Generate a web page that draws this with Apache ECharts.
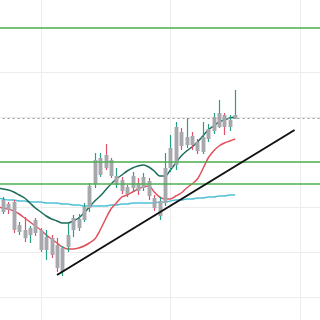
<!DOCTYPE html>
<html>
<head>
<meta charset="utf-8">
<script src="https://cdn.jsdelivr.net/npm/echarts@6/dist/echarts.min.js"></script>
<style>html,body{margin:0;padding:0;background:#fff}#c{width:320px;height:320px}</style>
</head>
<body>
<div id="c"></div>
<script>
// Bars (categories); category 0 is the slot left of the first visible candle
var categories = [];
for (var i = 0; i < 61; i++) categories.push(String(i + 1));
var firstCandleCategory = 1;

// Candle values [open, close, low, high]
var candleOpen  = [130,138,140,110,112,107,122,112, 92,104, 97, 70, 95,112,114,122,134,158,167,187,182,157,162,155,154,159,154,161,144,126,139,174,177,210,197,206,200,190,203,211,215,227,215,223];
var candleClose = [142,132,112,117,104,114,109, 92,105, 87, 74, 94,107,124,123,135,156,182,184,174,166,166,151,148,166,151,165,146,134,141,174,194,215,196,205,197,191,205,213,225,229,215,222,227];
var candleLow   = [128,128,109,107,100, 99,106, 90, 82, 84, 70, 66, 90,105,111,120,130,154,165,172,164,154,148,145,150,147,151,142,131,122,136,170,172,192,194,192,188,188,200,208,214,207,211,223];
var candleHigh  = [145,140,142,120,125,116,124,114,112,107,104, 96,119,127,128,139,159,189,189,198,184,174,165,157,170,164,169,164,147,145,189,207,220,214,224,210,203,220,218,229,242,229,227,252];

// Moving averages (from category 0)
var maFast = [154,153,152,150,147,144,139,134,130,126,123,121,119,119,121,124,129,135,141,146,152,158,163,167,171,174,176,177,175,171,166,166,172,179,186,191,195,200,206,212,216,220,222,224,225];
var maMid  = [135,134,133,131,128,124,120,116,112,107,103, 99, 95, 93, 93, 94, 96, 99,103,112,123,133,139,145,147,150,153,155,156,150,145,143,143,146,149,154,158,163,173,184,191,196,199,201,203];
var maSlow = [144,143,142,142,141,141,140,140,140,139,139,139,138,138,137,137,136,136,136,136,136,137,137,138,138,139,139,139,139,139,140,140,141,142,142,143,143,144,144,145,145,146,146,147,147];

// Horizontal levels
var greenLevels = [314, 180, 158];
var dottedLevel = 224;

// Trend line [category, value]
var trendStart = [11, 67];
var trendEnd = [55, 212];

var verticalGridCats = [8, 32, 56];

var UP = '#26a085', DOWN = '#e0506a', BODY = '#a7a7ae';

var candleData = candleOpen.map(function (o, i) {
  return [i + firstCandleCategory, o, candleClose[i], candleLow[i], candleHigh[i]];
});

var chart = echarts.init(document.getElementById('c'), null, {renderer: 'canvas'});
chart.setOption({
  animation: false,
  backgroundColor: '#ffffff',
  grid: {left: -2.4, right: -1.6, top: -18, bottom: -22, containLabel: false, outerBoundsMode: 'none'},
  xAxis: {
    type: 'category', data: categories, boundaryGap: false,
    axisLine: {show: false}, axisTick: {show: false}, axisLabel: {show: false},
    splitLine: {show: true, interval: function (idx) { return verticalGridCats.indexOf(idx) >= 0; },
      lineStyle: {color: '#ececec', width: 1}}
  },
  yAxis: {
    type: 'value', min: 0, max: 360, interval: 45,
    axisLine: {show: false}, axisTick: {show: false}, axisLabel: {show: false},
    splitLine: {show: true, lineStyle: {color: '#ececec', width: 1}}
  },
  series: [
    {
      type: 'line', data: [], silent: true,
      markLine: {
        symbol: 'none', silent: true, label: {show: false},
        data: greenLevels.map(function (v) { return {yAxis: v, lineStyle: {color: '#4caf50', width: 1.5, type: 'solid'}}; })
          .concat([{yAxis: dottedLevel, lineStyle: {color: '#9a9a9a', width: 1, type: [2, 3]}}])
      }
    },
    {type: 'line', data: maSlow, showSymbol: false, smooth: 0.3, lineStyle: {color: '#4fc1d6', width: 1.5}, z: 3},
    {type: 'line', data: maMid, showSymbol: false, smooth: 0.3, lineStyle: {color: '#e0505c', width: 1.5}, z: 3},
    {type: 'line', data: maFast, showSymbol: false, smooth: 0.3, lineStyle: {color: '#1c6b5a', width: 1.5}, z: 3},
    {
      type: 'custom', data: candleData, z: 4,
      encode: {x: 0, y: [1, 2, 3, 4]},
      renderItem: function (params, api) {
        var cat = api.value(0), o = api.value(1), c = api.value(2), l = api.value(3), h = api.value(4);
        var pH = api.coord([cat, h]), pL = api.coord([cat, l]);
        var pO = api.coord([cat, o]), pC = api.coord([cat, c]);
        var w = api.size([1, 0])[0] * 0.72;
        var up = c >= o;
        var x = Math.round(pH[0]) + 0.5;
        return {
          type: 'group', children: [
            {type: 'line', shape: {x1: x, y1: pH[1], x2: x, y2: pL[1]}, style: {stroke: up ? UP : DOWN, lineWidth: 1.2}},
            {type: 'rect', shape: {x: x - w / 2, y: Math.min(pO[1], pC[1]), width: w, height: Math.max(1, Math.abs(pO[1] - pC[1]))}, style: {fill: BODY}}
          ]
        };
      }
    },
    {type: 'line', data: [trendStart, trendEnd], showSymbol: false, lineStyle: {color: '#111111', width: 2}, z: 5}
  ]
});
</script>
</body>
</html>
